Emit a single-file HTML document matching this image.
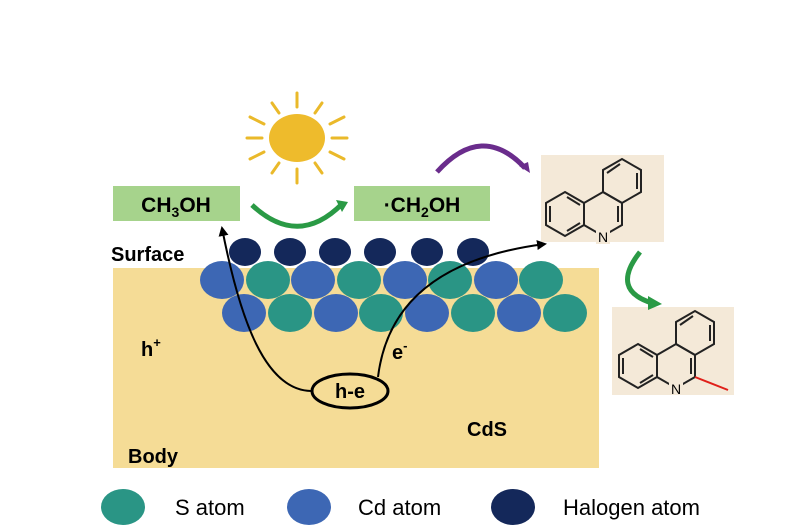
<!DOCTYPE html>
<html><head><meta charset="utf-8"><style>
html,body{margin:0;padding:0;background:#fff;}
svg{display:block;font-family:"Liberation Sans",sans-serif;}
</style></head><body>
<svg width="812" height="531" viewBox="0 0 812 531" xmlns="http://www.w3.org/2000/svg">
<defs>
<marker id="ah" markerWidth="10" markerHeight="10" refX="8" refY="5" orient="auto" markerUnits="userSpaceOnUse"><path d="M0,0 L10,5 L0,10 Z" fill="#000"/></marker>
</defs>
<!-- body -->
<rect x="113" y="268" width="486" height="200" fill="#f5dc96"/>
<!-- sun -->
<g stroke="#eab92a" stroke-width="3" stroke-linecap="round">
<line x1="297" y1="93" x2="297" y2="107"/><line x1="297" y1="169" x2="297" y2="183"/>
<line x1="247" y1="138" x2="262" y2="138"/><line x1="332" y1="138" x2="347" y2="138"/>
<line x1="272" y1="103" x2="279" y2="113"/><line x1="322" y1="103" x2="315" y2="113"/>
<line x1="272" y1="173" x2="279" y2="163"/><line x1="322" y1="173" x2="315" y2="163"/>
<line x1="250" y1="117" x2="264" y2="124"/><line x1="344" y1="117" x2="330" y2="124"/>
<line x1="250" y1="159" x2="264" y2="152"/><line x1="344" y1="159" x2="330" y2="152"/>
</g>
<ellipse cx="297" cy="138" rx="28" ry="24" fill="#eebb2c"/>
<!-- boxes -->
<rect x="113" y="186" width="127" height="35" fill="#a6d38c"/>
<text x="176" y="212" font-size="21" font-weight="bold" text-anchor="middle">CH<tspan font-size="14" dy="5">3</tspan><tspan dy="-5">OH</tspan></text>
<rect x="354" y="186" width="136" height="35" fill="#a6d38c"/>
<text x="422" y="212" font-size="21" font-weight="bold" text-anchor="middle">·CH<tspan font-size="14" dy="5">2</tspan><tspan dy="-5">OH</tspan></text>
<!-- green arc -->
<path d="M252,205 Q298,248 342,204" fill="none" stroke="#2a9a45" stroke-width="5"/>
<path d="M336,200 L348,202 L342,212 Z" fill="#2a9a45"/>
<!-- purple arc -->
<path d="M437,172 Q482,122 525,168" fill="none" stroke="#6a2c8c" stroke-width="5"/>
<path d="M519,166 L530,173 L528,162 Z" fill="#6a2c8c"/>
<!-- molecule boxes -->
<rect x="541" y="155" width="123" height="87" fill="#f4e9d8"/>
<rect x="612" y="307" width="122" height="88" fill="#f4e9d8"/>
<g fill="none" stroke="#222" stroke-width="2">
<!-- mol1 -->
<polygon points="565,192 584,203 584,225 565,236 546,225 546,203"/>
<polygon points="584,203 603,192 622,203 622,225 603,236 584,225"/>
<polygon points="603,192 603,170 622,159 641,170 641,192 622,203"/>
<line x1="550" y1="206" x2="550" y2="222"/><line x1="567" y1="197" x2="580" y2="205"/><line x1="567" y1="231" x2="580" y2="223"/>
<line x1="618" y1="206" x2="618" y2="222"/><line x1="637" y1="173" x2="637" y2="189"/><line x1="607" y1="173" x2="620" y2="164"/>
<!-- mol2 -->
<polygon points="638,344 657,355 657,377 638,388 619,377 619,355"/>
<polygon points="657,355 676,344 695,355 695,377 676,388 657,377"/>
<polygon points="676,344 676,322 695,311 714,322 714,344 695,355"/>
<line x1="623" y1="358" x2="623" y2="374"/><line x1="640" y1="349" x2="653" y2="357"/><line x1="640" y1="383" x2="653" y2="375"/>
<line x1="691" y1="358" x2="691" y2="374"/><line x1="710" y1="325" x2="710" y2="341"/><line x1="680" y1="325" x2="693" y2="316"/>
</g>
<line x1="695" y1="377" x2="728" y2="390" stroke="#e0201a" stroke-width="2"/>
<rect x="596" y="230" width="14" height="14" fill="#f4e9d8"/>
<text x="603" y="242" font-size="14" text-anchor="middle">N</text>
<rect x="669" y="382" width="14" height="13" fill="#f4e9d8"/>
<text x="676" y="394" font-size="14" text-anchor="middle">N</text>
<!-- green down arrow -->
<path d="M640,252 Q610,290 652,303" fill="none" stroke="#2a9a45" stroke-width="5"/>
<path d="M648,296 L662,304 L648,310 Z" fill="#2a9a45"/>
<!-- halogen -->
<g fill="#14285a">
<ellipse cx="245" cy="252" rx="16" ry="14"/><ellipse cx="290" cy="252" rx="16" ry="14"/><ellipse cx="335" cy="252" rx="16" ry="14"/><ellipse cx="380" cy="252" rx="16" ry="14"/><ellipse cx="427" cy="252" rx="16" ry="14"/><ellipse cx="473" cy="252" rx="16" ry="14"/>
</g>
<!-- row 1 -->
<g>
<ellipse cx="222" cy="280" rx="22" ry="19" fill="#3d67b4"/><ellipse cx="268" cy="280" rx="22" ry="19" fill="#2a9585"/><ellipse cx="313" cy="280" rx="22" ry="19" fill="#3d67b4"/><ellipse cx="359" cy="280" rx="22" ry="19" fill="#2a9585"/><ellipse cx="405" cy="280" rx="22" ry="19" fill="#3d67b4"/><ellipse cx="450" cy="280" rx="22" ry="19" fill="#2a9585"/><ellipse cx="496" cy="280" rx="22" ry="19" fill="#3d67b4"/><ellipse cx="541" cy="280" rx="22" ry="19" fill="#2a9585"/>
<ellipse cx="244" cy="313" rx="22" ry="19" fill="#3d67b4"/><ellipse cx="290" cy="313" rx="22" ry="19" fill="#2a9585"/><ellipse cx="336" cy="313" rx="22" ry="19" fill="#3d67b4"/><ellipse cx="381" cy="313" rx="22" ry="19" fill="#2a9585"/><ellipse cx="427" cy="313" rx="22" ry="19" fill="#3d67b4"/><ellipse cx="473" cy="313" rx="22" ry="19" fill="#2a9585"/><ellipse cx="519" cy="313" rx="22" ry="19" fill="#3d67b4"/><ellipse cx="565" cy="313" rx="22" ry="19" fill="#2a9585"/>
</g>
<!-- arrows -->
<path d="M311,391 C265,390 240,320 222,228" fill="none" stroke="#000" stroke-width="2" marker-end="url(#ah)"/>
<path d="M378,377 C385,320 420,260 545,244" fill="none" stroke="#000" stroke-width="2" marker-end="url(#ah)"/>
<ellipse cx="350" cy="391" rx="38" ry="17" fill="none" stroke="#000" stroke-width="3"/>
<!-- labels -->
<g font-weight="bold" font-size="20">
<text x="111" y="261">Surface</text>
<text x="141" y="356">h<tspan font-size="13" dy="-9">+</tspan></text>
<text x="392" y="359">e<tspan font-size="13" dy="-9">-</tspan></text>
<text x="350" y="398" text-anchor="middle">h-e</text>
<text x="467" y="436">CdS</text>
<text x="128" y="463">Body</text>
</g>
<!-- legend -->
<ellipse cx="123" cy="507" rx="22" ry="18" fill="#2a9585"/>
<ellipse cx="309" cy="507" rx="22" ry="18" fill="#3d67b4"/>
<ellipse cx="513" cy="507" rx="22" ry="18" fill="#14285a"/>
<g font-size="22">
<text x="175" y="515">S atom</text>
<text x="358" y="515">Cd atom</text>
<text x="563" y="515">Halogen atom</text>
</g>
</svg>
</body></html>
